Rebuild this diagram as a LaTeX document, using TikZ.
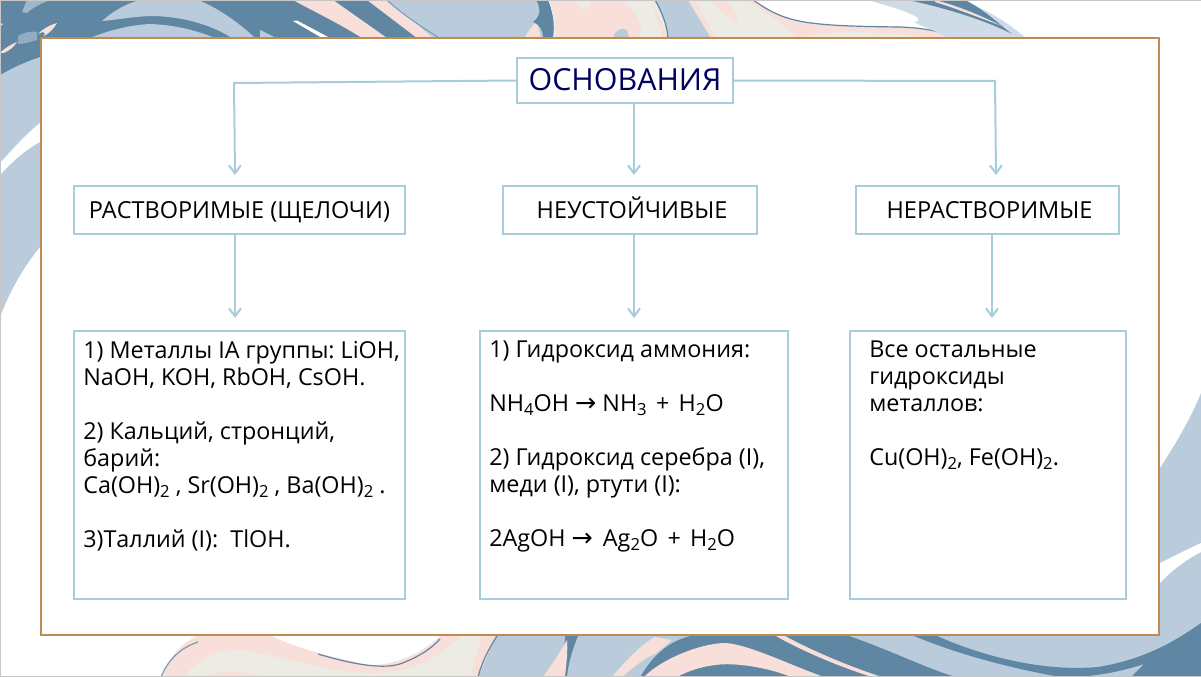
\documentclass[tikz,border=0pt]{standalone}
\usepackage{fontspec}
\setmainfont{Open Sans}
\newfontfamily\arrfont{DejaVu Sans}
\usetikzlibrary{arrows.meta}
\definecolor{lblue}{HTML}{BACCDB}
\definecolor{mblue}{HTML}{6F95AF}
\definecolor{dblue}{HTML}{5F87A3}
\definecolor{pinkb}{HTML}{F8DFDA}
\definecolor{creamb}{HTML}{ECEBE4}
\definecolor{panelb}{HTML}{C08A50}
\definecolor{boxb}{HTML}{A6CDD9}
\definecolor{navyt}{HTML}{00005F}
\newcommand{\dn}[1]{\raisebox{-3pt}{\fontsize{12.5}{12.5}\selectfont #1}}
\newcommand{\ar}{{\arrfont\fontsize{19}{15}\selectfont →}}
\newcommand{\pl}{\hspace{7pt}+\hspace{7pt}}
\newcommand{\bodyfont}{\frenchspacing\fontsize{17.5}{20.25}\selectfont}
\tikzset{
  x=0.75pt,y=-0.75pt,
  boxn/.style={draw=boxb,line width=1.5pt,fill=white,rectangle,inner sep=0pt,anchor=north west,outer sep=0pt},
  catbox/.style={boxn,minimum height=48*0.75pt,font=\fontsize{17.6}{20}\selectfont,text height=13pt,text depth=0pt},
  conn/.style={draw=boxb,line width=1.5pt,-{Straight Barb[length=6pt,width=9pt,line width=1.5pt]}},
}
\begin{document}
\begin{tikzpicture}
\useasboundingbox (0,0) rectangle (1201,677);
\fill[white] (0,0) rectangle (1201,677);
% left wash
\fill[lblue] (0,60) -- (40,40) -- (40,247) .. controls (25,265) and (10,290) .. (0,317) -- cycle;
\fill[white] (0,163) .. controls (12,150) and (25,135) .. (40,123) -- (40,142) .. controls (25,150) and (12,162) .. (0,175) -- cycle;
% top dark field, left part
\fill[dblue] (0,0) -- (385,0) -- (433,38) -- (40,38) -- (40,57) .. controls (25,62) and (12,68) .. (0,75) -- cycle;
\fill[lblue!70!dblue] (27,13) .. controls (32,8) and (40,4) .. (50,0) -- (27,0) -- (22,12) -- cycle;
\fill[lblue!55!dblue] (18,36) .. controls (24,32) and (32,31) .. (37,32) -- (37,40) .. controls (30,42) and (24,44) .. (18,44) -- cycle;
\fill[pinkb] (38,34) .. controls (44,28) and (50,25) .. (57,23) .. controls (54,28) and (50,33) .. (44,36) .. controls (46,32) and (44,31) .. (38,34) -- cycle;
\fill[pinkb] (0,53) .. controls (6,47) and (12,44) .. (17,42) .. controls (14,47) and (10,50) .. (4,53) -- cycle;
\fill[pinkb] (0,23) -- (3,24) -- (0,27) -- cycle;
% light blobs
\fill[lblue] (102,21) .. controls (112,12) and (125,4) .. (140,0) -- (198,0) .. controls (218,8) and (238,22) .. (255,38) -- (232,38) .. controls (210,24) and (180,16) .. (150,16) .. controls (130,17) and (115,20) .. (102,21) -- cycle;
\fill[lblue] (90,38) .. controls (110,30) and (130,25) .. (150,24) .. controls (175,25) and (195,30) .. (215,38) -- cycle;
\fill[lblue] (260,30) -- (276,38) -- (260,38) -- cycle;
% pink diagonals
\fill[pinkb] (293,0) -- (333,0) -- (387,38) -- (362,38) .. controls (340,24) and (315,12) .. (293,0) -- cycle;
\fill[white] (293,21) -- (297,20.5) -- (330,38) -- (322,38) -- cycle;
\fill[pinkb] (367,0) -- (385,0) -- (435,38) -- (417,38) -- cycle;
% top light blue centre
\fill[lblue] (385,0) -- (540,0) -- (553,38) -- (433,38) .. controls (415,22) and (400,10) .. (385,0) -- cycle;
\draw[dblue!70!lblue,line width=0.8pt] (388,1) .. controls (400,12) and (418,25) .. (438,37);
\fill[pinkb] (524,38) .. controls (528,32) and (532,26) .. (535,23) -- (538,26) -- (541,38) -- cycle;
\fill[dblue] (536,0) -- (548,0) .. controls (553,12) and (555,25) .. (555,38) -- (543,38) .. controls (543,30) and (540,25) .. (533,22) .. controls (541,16) and (541,8) .. (536,0) -- cycle;
% top pink / cream
\fill[creamb] (549,0) -- (753,0) .. controls (785,22) and (800,26) .. (900,27) .. controls (925,28) and (945,32) .. (955,38) -- (553,38) .. controls (555,25) and (553,12) .. (549,0) -- cycle;
\fill[pinkb] (549,0) -- (652,0) -- (668,38) -- (556,38) .. controls (556,25) and (554,12) .. (549,0) -- cycle;
\fill[creamb] (573,0) -- (590,0) .. controls (592,4) and (588,9) .. (584,10) .. controls (580,8) and (576,4) .. (573,0) -- cycle;
\fill[creamb] (622,0) -- (652,0) .. controls (655,14) and (660,26) .. (662,38) -- (640,38) .. controls (645,25) and (635,10) .. (622,0) -- cycle;
\fill[lblue] (613,38) .. controls (615,30) and (622,27) .. (627,30) -- (629,38) -- cycle;
\fill[lblue] (655,0) -- (688,0) -- (711,38) -- (668,38) .. controls (667,25) and (662,12) .. (655,0) -- cycle;
\draw[dblue,line width=0.9pt] (655,0) .. controls (662,12) and (667,25) .. (668,38);
\fill[pinkb] (688,0) -- (694,0) -- (716,38) -- (711,38) -- cycle;
\fill[pinkb] (710,0) -- (727,0) .. controls (732,8) and (738,15) .. (738,20) .. controls (735,24) and (730,20) .. (725,15) -- cycle;
\fill[pinkb] (745,0) -- (753,0) .. controls (785,22) and (800,26) .. (900,27) .. controls (925,28) and (945,32) .. (955,38) -- (797,38) .. controls (785,25) and (765,10) .. (745,0) -- cycle;
\fill[creamb] (800,38) .. controls (815,33) and (840,31) .. (880,33) .. controls (900,34) and (915,36) .. (925,38) -- cycle;
\draw[dblue,line width=0.9pt] (753,0) .. controls (785,22) and (800,26) .. (900,27) .. controls (925,28) and (945,32) .. (955,38);
% top-right blade
\fill[lblue!70!white] (868,0) -- (960,0) .. controls (990,10) and (1010,25) .. (1026,38) -- (948,38) .. controls (935,30) and (915,24) .. (915,22) .. controls (930,18) and (895,8) .. (868,0) -- cycle;
\fill[dblue] (908,0) -- (965,0) .. controls (985,10) and (1000,25) .. (1012,34) .. controls (985,20) and (945,8) .. (908,0) -- cycle;
\fill[pinkb] (935,0) .. controls (965,8) and (985,18) .. (1002,26) .. controls (980,18) and (955,8) .. (935,2) -- cycle;
% right wash
\fill[lblue] (1160,468) .. controls (1175,445) and (1190,420) .. (1201,393) -- (1201,677) -- (1160,677) -- cycle;
\fill[white] (1160,563) -- (1180,553) -- (1201,543) -- (1201,552) .. controls (1185,560) and (1170,572) .. (1160,583) -- cycle;
% bottom band
\fill[lblue] (494,635) -- (1201,635) -- (1201,677) -- (478,677) -- cycle;
\fill[pinkb] (161,677) .. controls (170,655) and (185,640) .. (200,635) -- (496,635) -- (478,677) -- cycle;
\fill[white] (270,635) .. controls (290,645) and (320,655) .. (370,665) .. controls (400,665) and (425,650) .. (441,635) -- cycle;
\fill[creamb] (185,677) .. controls (195,660) and (215,650) .. (240,650) .. controls (280,655) and (320,672) .. (375,673) .. controls (420,672) and (440,655) .. (462,635) -- (482,635) .. controls (478,650) and (472,665) .. (470,677) -- cycle;
\fill[pinkb] (205,677) .. controls (220,670) and (240,670) .. (265,677) -- cycle;
\draw[dblue,line width=0.9pt] (318,654) .. controls (345,662) and (385,672) .. (405,662) .. controls (420,656) and (432,648) .. (440,639);
\draw[dblue!70!lblue,line width=0.9pt] (161,677) .. controls (168,660) and (180,648) .. (198,642);
\draw[dblue,line width=0.9pt] (497,636) .. controls (488,650) and (482,662) .. (478,677);
\fill[dblue] (565,636) -- (578,636) .. controls (572,650) and (568,665) .. (567,677) -- (560,677) -- (565,640) -- cycle;
\fill[pinkb] (543,677) .. controls (552,665) and (560,652) .. (567,640) .. controls (568,655) and (566,665) .. (565,677) -- cycle;
\fill[dblue] (617,677) .. controls (640,655) and (665,640) .. (690,636) -- (849,636) .. controls (890,650) and (930,670) .. (956,677) -- cycle;
\fill[lblue] (600,677) .. controls (615,660) and (635,645) .. (655,636) -- (690,636) .. controls (665,642) and (650,660) .. (640,677) -- cycle;
\fill[pinkb] (612,677) .. controls (622,665) and (640,645) .. (655,637) -- (672,640) .. controls (660,650) and (655,655) .. (650,656) .. controls (640,662) and (630,670) .. (622,677) -- cycle;
\fill[pinkb] (644,677) .. controls (660,660) and (700,643) .. (726,643) .. controls (750,645) and (790,665) .. (824,677) -- (791,677) .. controls (770,668) and (735,662) .. (715,665) .. controls (700,667) and (688,671) .. (677,677) -- cycle;
\fill[pinkb] (776,636) -- (785,636) .. controls (820,655) and (860,670) .. (882,677) -- (872,677) .. controls (840,667) and (800,650) .. (776,636) -- cycle;
\fill[dblue] (914,636) -- (937,636) .. controls (980,655) and (1040,672) .. (1098,667) .. controls (1140,660) and (1170,645) .. (1201,623) -- (1201,677) -- (1131,677) -- (1144,664) .. controls (1120,672) and (1100,675) .. (1079,677) -- (1060,677) .. controls (1010,668) and (960,655) .. (914,636) -- cycle;
% page edge
\draw[black!22,line width=0.9pt] (1201,0.6) -- (0.6,0.6) -- (0.6,676.4) -- (1201,676.4);
% panel
\node[draw=panelb,fill=white,line width=1.5pt,rectangle,inner sep=0pt,outer sep=0pt,anchor=north west,minimum width=1118*0.75pt,minimum height=596*0.75pt] (panel) at (40.5,38.5) {};
% head
\node[boxn,minimum width=216*0.75pt,minimum height=45*0.75pt,text=navyt,font=\fontsize{22.8}{24}\selectfont,text height=15.5pt,text depth=0pt] (top) at (517,58) {ОСНОВАНИЯ};
% category
\node[catbox,minimum width=331*0.75pt] (r1) at (74,186) {РАСТВОРИМЫЕ (ЩЕЛОЧИ)};
\node[catbox,minimum width=254*0.75pt] (r2) at (503,186) {\hspace{3pt}НЕУСТОЙЧИВЫЕ};
\node[catbox,minimum width=263*0.75pt] (r3) at (856,186) {\hspace{3pt}НЕРАСТВОРИМЫЕ};
% bodies
\node[boxn] (b1) at (74,331) {\begin{minipage}[t][268\dimexpr0.75pt\relax][t]{331\dimexpr0.75pt\relax}\bodyfont\leftskip=7pt\rightskip=0pt plus 1fil\parindent=0pt\vspace{7.7pt}%
1) Металлы IA группы: LiOH,\\
NaOH, KOH, RbOH, CsOH.\\[20.25pt]
2) Кальций, стронций,\\
барий:\\
Ca(OH)\dn{2} , Sr(OH)\dn{2}\ , Ba(OH)\dn{2} .\\[20.25pt]
3)Таллий (I):\ \ TlOH.
\end{minipage}};
\node[boxn] (b2) at (480,331) {\begin{minipage}[t][268\dimexpr0.75pt\relax][t]{308\dimexpr0.75pt\relax}\bodyfont\leftskip=7pt\rightskip=0pt plus 1fil\parindent=0pt\vspace{7.7pt}%
1) Гидроксид аммония:\\[20.25pt]
NH\dn{4}OH \ar{} NH\dn{3}\pl H\dn{2}O\\[20.25pt]
2) Гидроксид серебра (I),\\
меди (I), ртути (I):\\[20.25pt]
2AgOH \ar{}\hspace{3pt} Ag\dn{2}O\pl H\dn{2}O
\end{minipage}};
\node[boxn] (b3) at (850,331) {\begin{minipage}[t][268\dimexpr0.75pt\relax][t]{276\dimexpr0.75pt\relax}\bodyfont\leftskip=14.5pt\rightskip=0pt plus 1fil\parindent=0pt\vspace{7.7pt}%
Все остальные\\
гидроксиды\\
металлов:\\[20.25pt]
Cu(OH)\dn{2}, Fe(OH)\dn{2}.
\end{minipage}};
% connectors
\coordinate (e1) at (234,83);
\coordinate (a1) at (235,175);
\coordinate (e3) at (995,81);
\coordinate (a3) at (996,175);
\coordinate (a2) at (634,175);
\coordinate (s2) at (634,103);
\coordinate (s4) at (235,234);
\coordinate (a4) at (235,318);
\coordinate (s5) at (634,234);
\coordinate (a5) at (634,318);
\coordinate (s6) at (992,234);
\coordinate (a6) at (992,318);
\draw[conn] (top.west) -- (e1) -- (a1);
\draw[conn] (top.east) -- (e3) -- (a3);
\draw[conn] (s2) -- (a2);
\draw[conn] (s4) -- (a4);
\draw[conn] (s5) -- (a5);
\draw[conn] (s6) -- (a6);
\end{tikzpicture}
\end{document}
